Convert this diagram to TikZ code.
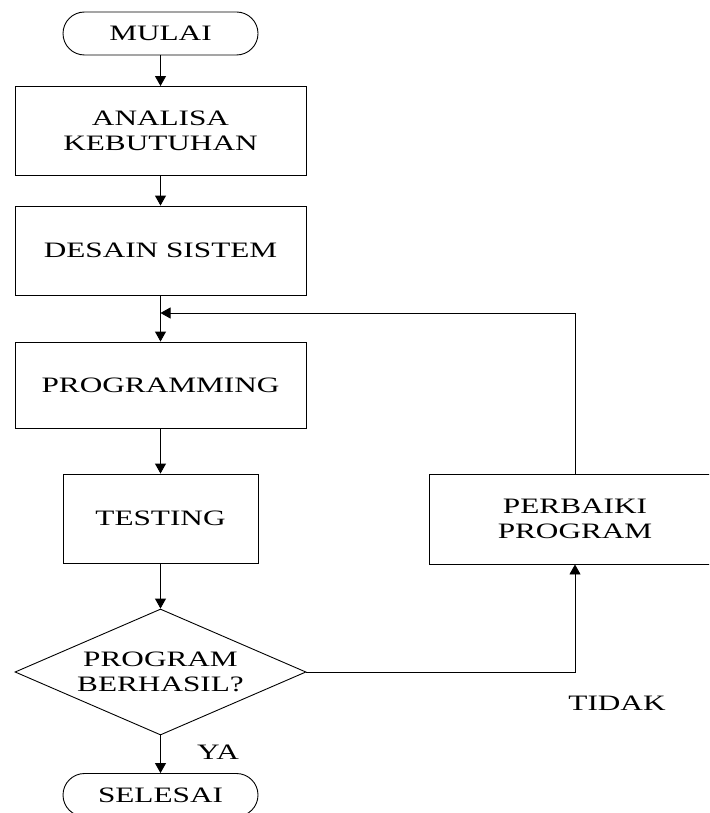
\documentclass[tikz,border=0pt]{standalone}
\usepackage{fontspec}
\setmainfont[FakeStretch=1.42]{Liberation Serif}
\usetikzlibrary{arrows.meta, positioning, shapes.geometric}

\begin{document}
\begin{tikzpicture}[
    x=1pt, y=-1pt,
    line width=0.9pt,
    font=\fontsize{22}{25}\selectfont,
    block/.style={rectangle, draw, minimum width=291pt, minimum height=89pt, align=center, inner sep=0pt},
    terminal/.style={rectangle, draw, rounded corners=21.5pt, minimum width=195pt, minimum height=43pt, align=center, inner sep=0pt},
    decision/.style={diamond, draw, minimum width=291pt, minimum height=126pt, align=center, aspect=2.3, inner sep=0pt},
    arrow/.style={-{Triangle[length=10pt, width=11pt]}},
]
\useasboundingbox (0,0) rectangle (709,813);
\clip (0,0) rectangle (709,813);

\node[terminal] (mulai) at (160.5,33.5) {MULAI};
\node[block] (analisa) at (160.5,131) {ANALISA\\KEBUTUHAN};
\node[block] (desain) at (160.5,250.5) {DESAIN SISTEM};
\node[block, minimum height=86pt] (prog) at (160.5,385) {PROGRAMMING};
\node[block, minimum width=195pt] (test) at (160.5,518.5) {TESTING};
\node[decision] (cek) at (160.5,672) {PROGRAM\\BERHASIL?};
\node[terminal] (selesai) at (160.5,795) {SELESAI};
\node[block, minimum width=292pt, minimum height=90pt] (perbaiki) at (575,519) {PERBAIKI\\PROGRAM};

\node (ya) at (218,752) {YA};
\node (tidak) at (617,703) {TIDAK};

\coordinate (join) at (160.5,313);

\draw[arrow] (mulai)    -- (analisa);
\draw[arrow] (analisa)  -- (desain);
\draw[arrow] (desain)   -- (prog);
\draw[arrow] (prog)     -- (test);
\draw[arrow] (test)     -- (cek);
\draw[arrow] (cek)      -- (selesai);

% loop back when the program fails
\draw[arrow] (cek.east) -| (perbaiki.south);
\draw[arrow] (perbaiki.north) |- (join);

\end{tikzpicture}
\end{document}
